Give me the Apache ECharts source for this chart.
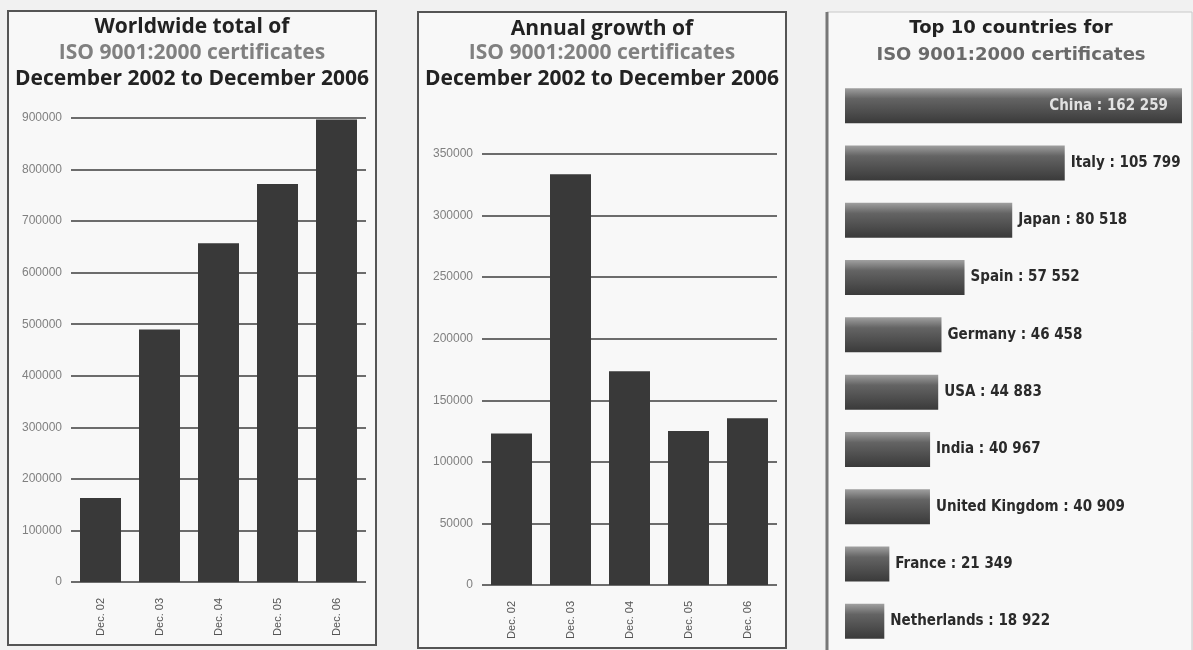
<!DOCTYPE html>
<html><head><meta charset="utf-8">
<script src="https://cdn.jsdelivr.net/npm/echarts@6/dist/echarts.min.js"></script>
<style>html,body{margin:0;padding:0;background:#f1f1f1}#c{width:1193px;height:650px}</style>
</head><body><div id="c"></div>
<script>
// ---- data ----
const years = ['Dec. 02', 'Dec. 03', 'Dec. 04', 'Dec. 05', 'Dec. 06'];
const totalCerts = [163000, 490000, 657000, 772000, 897000];
const growthCerts = [123000, 333500, 173500, 125000, 135500];
const countries = ['China', 'Italy', 'Japan', 'Spain', 'Germany', 'USA', 'India', 'United Kingdom', 'France', 'Netherlands'];
const countryCerts = [162259, 105799, 80518, 57552, 46458, 44883, 40967, 40909, 21349, 18922];
const titleTotal = ['Worldwide total of', 'ISO 9001:2000 certificates', 'December 2002 to December 2006'];
const titleGrowth = ['Annual growth of', 'ISO 9001:2000 certificates', 'December 2002 to December 2006'];
const titleTop = ['Top 10 countries for', 'ISO 9001:2000 certificates'];

const chart = echarts.init(document.getElementById('c'));
const spaced = v => String(v).replace(/\B(?=(\d{3})+(?!\d))/g, ' ');
const narrow = '"DejaVu Sans Condensed", "Liberation Sans Narrow", Roboto, sans-serif';
const gridLine = { lineStyle: { color: '#3e3e3e', width: 1.6 } };
const yLab = { color: '#808080', fontFamily: '"Liberation Sans", Arial, sans-serif', fontSize: 12, margin: 9, formatter: v => String(v) };
const xLab = { color: '#555', fontFamily: '"Liberation Sans", Arial, sans-serif', fontSize: 11, rotate: 90, margin: 16 };

function titleLines(lines, cx, ys, fonts, colors) {
  return lines.map((t, i) => ({
    type: 'text', z: 10,
    style: { text: t, x: cx, y: ys[i], textAlign: 'center', textVerticalAlign: 'middle',
      font: fonts[i], fill: colors[i] }
  }));
}
const f1 = 'bold 21px "Open Sans"';
const f2 = 'bold 21px "Open Sans"';
const f3 = 'bold 18px "DejaVu Sans"';

chart.setOption({
  animation: false,
  backgroundColor: '#f1f1f1',
  graphic: [
    { type: 'rect', z: -10, shape: { x: 8, y: 11, width: 368, height: 634 }, style: { fill: '#f8f8f8', stroke: '#555', lineWidth: 2 } },
    { type: 'rect', z: -10, shape: { x: 418, y: 12, width: 368, height: 636 }, style: { fill: '#f8f8f8', stroke: '#555', lineWidth: 2 } },
    { type: 'rect', z: -10, shape: { x: 827, y: 12, width: 365, height: 645 }, style: { fill: '#f8f8f8', stroke: '#c8c8c8', lineWidth: 1 } },
    { type: 'line', z: -9, shape: { x1: 827, y1: 12, x2: 827, y2: 650 }, style: { stroke: '#777', lineWidth: 3 } },
    ...titleLines(titleTotal, 192, [27, 53, 79], [f1, f2, f1], ['#222', '#808080', '#222']),
    ...titleLines(titleGrowth, 602, [29, 53, 79], [f1, f2, f1], ['#222', '#808080', '#222']),
    ...titleLines(titleTop, 1011, [28, 55], [f3, f3], ['#222', '#6a6a6a'])
  ],
  grid: [
    { left: 71, right: 1193 - 366, top: 118, bottom: 650 - 582 },
    { left: 482, right: 1193 - 777, top: 154, bottom: 650 - 585 },
    { left: 845, width: 337, top: 77, height: 573 }
  ],
  xAxis: [
    { gridIndex: 0, type: 'category', data: years, axisTick: { show: false }, axisLine: { show: false }, axisLabel: xLab },
    { gridIndex: 1, type: 'category', data: years, axisTick: { show: false }, axisLine: { show: false }, axisLabel: xLab },
    { gridIndex: 2, type: 'value', min: 0, max: 'dataMax', show: false, splitLine: { show: false } }
  ],
  yAxis: [
    { gridIndex: 0, type: 'value', min: 0, max: 900000, interval: 100000, splitLine: gridLine, axisLabel: yLab, axisLine: { show: false }, axisTick: { show: false } },
    { gridIndex: 1, type: 'value', min: 0, max: 350000, interval: 50000, splitLine: gridLine, axisLabel: yLab, axisLine: { show: false }, axisTick: { show: false } },
    { gridIndex: 2, type: 'category', data: countries, inverse: true, show: false }
  ],
  series: [
    { type: 'bar', xAxisIndex: 0, yAxisIndex: 0, data: totalCerts, barWidth: 41, itemStyle: { color: '#393939' } },
    { type: 'bar', xAxisIndex: 1, yAxisIndex: 1, data: growthCerts, barWidth: 41, itemStyle: { color: '#393939' } },
    {
      type: 'bar', xAxisIndex: 2, yAxisIndex: 2, barWidth: 35,
      data: countryCerts.map((v, i) => i === 0 ? {
        value: v,
        label: { position: 'insideRight', distance: 14, color: '#e2e2e2' }
      } : v),
      itemStyle: {
        color: new echarts.graphic.LinearGradient(0, 0, 0, 1, [
          { offset: 0, color: '#a0a0a0' }, { offset: 0.3, color: '#646464' }, { offset: 1, color: '#3a3a3a' }
        ])
      },
      label: {
        show: true, position: 'right', distance: 6, color: '#2a2a2a',
        fontFamily: narrow, fontWeight: 'bold', fontSize: 15,
        formatter: p => p.name + ' : ' + spaced(p.value)
      }
    }
  ]
});
</script></body></html>
